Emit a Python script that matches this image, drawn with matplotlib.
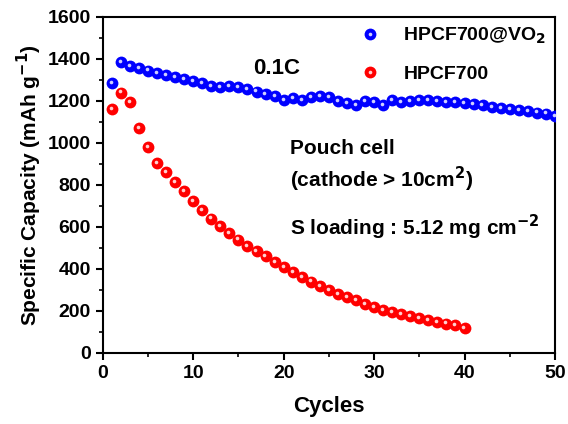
import matplotlib
matplotlib.use("Agg")
import matplotlib.pyplot as plt
import matplotlib.transforms as mtransforms
from matplotlib.legend_handler import HandlerTuple
import numpy as np

plt.rcParams['font.family'] = ['Liberation Sans', 'DejaVu Sans']
plt.rcParams['font.weight'] = 'bold'
plt.rcParams['mathtext.default'] = 'bf'

# Cycle numbers
cycles_vo2 = list(range(1, 51))
cycles_hpcf = list(range(1, 41))

# Discharge capacities (mAh g-1)
cap_vo2 = [1285, 1385, 1368, 1358, 1345, 1335, 1325, 1315, 1305, 1295,
           1285, 1272, 1268, 1270, 1265, 1258, 1245, 1235, 1222, 1205,
           1212, 1205, 1220, 1222, 1218, 1200, 1190, 1180, 1200, 1195,
           1182, 1205, 1195, 1200, 1205, 1205, 1200, 1195, 1195, 1190,
           1185, 1180, 1172, 1165, 1160, 1155, 1150, 1145, 1140, 1130]
cap_hpcf = [1160, 1240, 1195, 1070, 980, 905, 860, 815, 770, 725,
            680, 640, 605, 570, 540, 510, 485, 460, 435, 410,
            385, 360, 340, 320, 300, 282, 265, 250, 235, 220,
            205, 195, 185, 175, 165, 155, 148, 140, 132, 120]

series_labels = ['HPCF700@VO$_2$', 'HPCF700']
series_colors = ['#0000ff', '#ff0000']
highlight_colors = ['#d0d0ff', '#ffd0d0']

fig = plt.figure(figsize=(5.68, 4.24), dpi=100)
ax = fig.add_axes([0.181, 0.1675, 0.796, 0.7925])

hl_trans = mtransforms.offset_copy(ax.transData, fig=fig, x=-0.8, y=0.8, units='points')

handles = []
for xs, ys, col, hcol in [(cycles_vo2, cap_vo2, series_colors[0], highlight_colors[0]),
                          (cycles_hpcf, cap_hpcf, series_colors[1], highlight_colors[1])]:
    main, = ax.plot(xs, ys, 'o', ms=8.5, color=col, mec=col, mew=0.0, zorder=3)
    hl, = ax.plot(xs, ys, 'o', ms=2.6, color=hcol, mew=0, transform=hl_trans, zorder=4)
    handles.append((main, hl))

ax.set_xlim(0, 50)
ax.set_ylim(0, 1600)
ax.set_xticks(np.arange(0, 51, 10))
ax.set_yticks(np.arange(0, 1601, 200))
ax.set_xticks(np.arange(0, 51, 5), minor=True)
ax.set_yticks(np.arange(0, 1601, 100), minor=True)
ax.tick_params(which='major', direction='out', length=5, width=1.5, labelsize=14)
ax.tick_params(which='minor', direction='out', length=3, width=1.2)
for sp in ax.spines.values():
    sp.set_linewidth(1.5)

ax.set_xlabel('Cycles', fontsize=16, fontweight='bold', labelpad=10)
ax.set_ylabel('Specific Capacity (mAh g$^{-1}$)', fontsize=15, fontweight='bold', labelpad=3)

leg = ax.legend(handles, series_labels, handler_map={tuple: HandlerTuple(ndivide=1)},
                loc='upper left', bbox_to_anchor=(0.566, 0.975), frameon=False,
                borderpad=0, borderaxespad=0,
                fontsize=14, handlelength=1.2, handletextpad=1.1, labelspacing=1.0)

ax.text(0.332, 0.830, '0.1C', transform=ax.transAxes, fontsize=16, fontweight='bold', va='baseline')
ax.text(0.414, 0.592, 'Pouch cell', transform=ax.transAxes, fontsize=15, fontweight='bold', va='baseline')
ax.text(0.414, 0.494, '(cathode > 10cm$^2$)', transform=ax.transAxes, fontsize=15, fontweight='bold', va='baseline')
ax.text(0.414, 0.351, 'S loading : 5.12 mg cm$^{-2}$', transform=ax.transAxes, fontsize=15, fontweight='bold', va='baseline')

fig.savefig('out.png', dpi=100)
